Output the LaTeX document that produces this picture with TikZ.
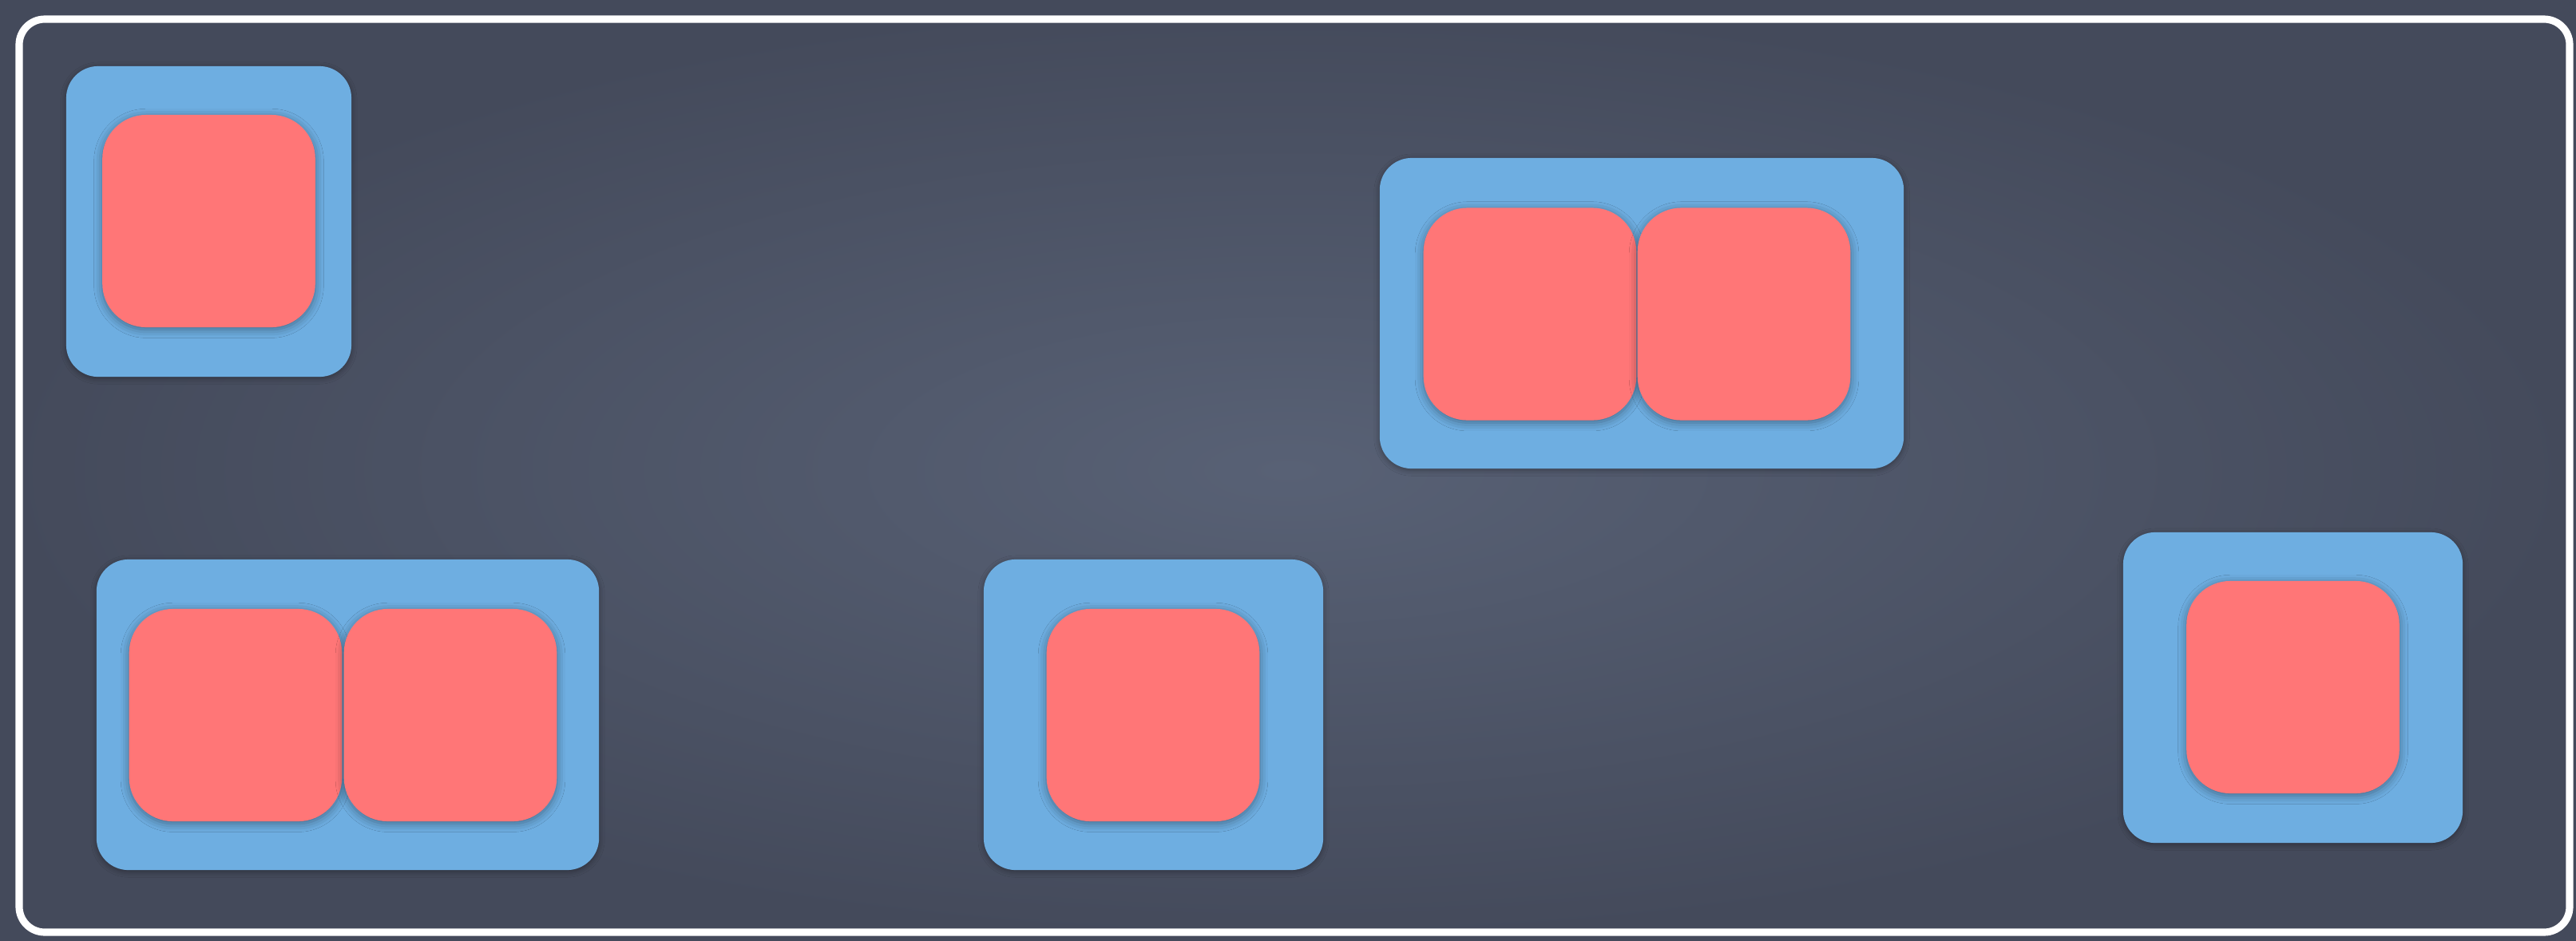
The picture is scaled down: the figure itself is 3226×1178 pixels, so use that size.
\documentclass[tikz,border=0pt]{standalone}
\usetikzlibrary{shadows.blur}
\definecolor{boardin}{RGB}{88,97,117}
\definecolor{boardout}{RGB}{68,74,91}
\definecolor{bluefill}{RGB}{110,174,225}
\definecolor{redfill}{RGB}{255,118,119}
\tikzset{
  outerbox/.style={rectangle, rounded corners=0.4cm, fill=bluefill, inner sep=0pt, outer sep=0pt,
    blur shadow={shadow xshift=0pt, shadow yshift=-0.6pt, shadow blur radius=2pt, shadow opacity=35}},
  innerbox/.style={rectangle, rounded corners=0.55cm, fill=redfill, inner sep=0pt, outer sep=0pt,
    minimum width=2.665cm, minimum height=2.66cm,
    blur shadow={shadow xshift=0pt, shadow yshift=-0.8pt, shadow blur radius=3pt, shadow opacity=40}},
  chalkframe/.style={draw=white, line width=2.6pt, rounded corners=0.32cm}
}
\begin{document}
\begin{tikzpicture}[x=0.01cm, y=-0.01cm]
  % background board
  \path[inner color=boardin, outer color=boardout] (0,0) rectangle (3226,1178);
  \useasboundingbox (0,0) rectangle (3226,1178);
  % chalk frame
  \draw[chalkframe] (24,24) rectangle (3218,1168);

  % box 1 (top left)
  \node[outerbox, minimum width=3.57cm, minimum height=3.89cm] (b1) at (261.5,277.5) {};
  \node[innerbox] (r1) at (261.5,277) {};

  % box 2 (top middle, double)
  \node[outerbox, minimum width=6.56cm, minimum height=3.89cm] (b2) at (2056,392.5) {};
  \node[innerbox] (r2a) at (1916,393.5) {};
  \node[innerbox] (r2b) at (2184,393.5) {};

  % box 3 (bottom left, double)
  \node[outerbox, minimum width=6.29cm, minimum height=3.89cm] (b3) at (435.5,895.5) {};
  \node[innerbox] (r3a) at (295,896) {};
  \node[innerbox] (r3b) at (564,896) {};

  % box 4 (bottom middle)
  \node[outerbox, minimum width=4.25cm, minimum height=3.89cm] (b4) at (1444.5,895.5) {};
  \node[innerbox] (r4) at (1444,896) {};

  % box 5 (right)
  \node[outerbox, minimum width=4.25cm, minimum height=3.89cm] (b5) at (2871.5,861.5) {};
  \node[innerbox] (r5) at (2871.5,861) {};
\end{tikzpicture}
\end{document}
